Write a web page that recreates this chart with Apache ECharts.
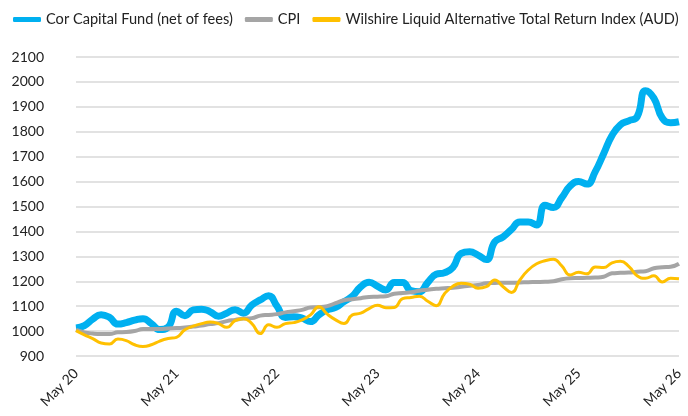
<!DOCTYPE html>
<html>
<head>
<meta charset="utf-8">
<script src="https://cdn.jsdelivr.net/npm/echarts@6/dist/echarts.min.js"></script>
<style>
html, body { margin: 0; padding: 0; background: #fff; }
#chart { width: 688px; height: 416px; }
</style>
</head>
<body>
<div id="chart"></div>
<script>
// month labels May 20 .. May 26
var monthNames = ['Jan', 'Feb', 'Mar', 'Apr', 'May', 'Jun', 'Jul', 'Aug', 'Sep', 'Oct', 'Nov', 'Dec'];
var startYear = 20, startMonth = 4, monthCount = 73;

var corFund = [
	1012, 1022, 1048, 1066, 1055, 1028, 1034, 1044, 1050, 1030, 1006, 1016,
	1080, 1062, 1085, 1088, 1078, 1060, 1072, 1086, 1072, 1105, 1125, 1142,
	1100, 1055, 1058, 1052, 1038, 1065, 1085, 1095, 1118, 1140, 1178, 1196,
	1180, 1165, 1195, 1195, 1162, 1158, 1195, 1228, 1234, 1255, 1312, 1318,
	1305, 1287, 1358, 1378, 1408, 1438, 1438, 1426, 1505, 1496, 1535, 1582,
	1600, 1590, 1640, 1712, 1785, 1828, 1844, 1860, 1965, 1935, 1855, 1836,
	1840
];
var cpi = [
	1005, 995, 990, 988, 988, 995, 996, 1000, 1008, 1008, 1008, 1010,
	1012, 1014, 1018, 1022, 1028, 1032, 1040, 1045, 1050, 1052, 1062, 1065,
	1068, 1075, 1080, 1085, 1095, 1096, 1100, 1112, 1124, 1128, 1132, 1137,
	1138, 1140, 1150, 1153, 1156, 1162, 1166, 1170, 1172, 1174, 1178, 1182,
	1185, 1192, 1193, 1194, 1194, 1195, 1196, 1197, 1198, 1200, 1208, 1212,
	1213, 1214, 1215, 1218, 1232, 1234, 1235, 1238, 1240, 1252, 1256, 1258,
	1270
];
var wilshire = [
	1002, 985, 970, 952, 948, 968, 962, 945, 938, 945, 960, 970,
	975, 1005, 1020, 1030, 1036, 1030, 1015, 1042, 1050, 1030, 990, 1025,
	1015, 1030, 1034, 1045, 1065, 1098, 1068, 1045, 1030, 1065, 1072, 1090,
	1104, 1094, 1095, 1130, 1135, 1140, 1120, 1102, 1150, 1180, 1192, 1188,
	1172, 1178, 1205, 1178, 1155, 1205, 1245, 1270, 1282, 1288, 1262, 1225,
	1236, 1230, 1257, 1255, 1274, 1280, 1260, 1222, 1212, 1222, 1197, 1212,
	1210
];

var categories = [];
for (var i = 0; i < monthCount; i++) {
	var m = startMonth + i;
	categories.push(monthNames[m % 12] + ' ' + (startYear + Math.floor(m / 12)));
}

var myChart = echarts.init(document.getElementById('chart'));
var option = {
	animation: false,
	textStyle: { fontFamily: 'Lato' },
	legend: {
		left: 13,
		top: 12,
		width: 675,
		padding: 0,
		icon: 'roundRect',
		itemWidth: 28,
		itemHeight: 5,
		itemGap: 12,
		textStyle: { fontSize: 14.6, color: '#222', fontFamily: 'Lato' },
		data: ['Cor Capital Fund (net of fees)', 'CPI', 'Wilshire Liquid Alternative Total Return Index (AUD)']
	},
	grid: { left: 76, right: 9, top: 57, bottom: 60 },
	xAxis: {
		type: 'category',
		boundaryGap: false,
		data: categories,
		axisLine: { show: false },
		axisTick: { show: false },
		axisLabel: {
			interval: 11,
			rotate: 45,
			margin: 15,
			fontSize: 14,
			color: '#222'
		}
	},
	yAxis: {
		type: 'value',
		min: 900,
		max: 2100,
		interval: 100,
		axisLabel: {
			fontSize: 14,
			color: '#222',
			margin: 32,
			formatter: function (v) { return String(v); }
		},
		splitLine: { lineStyle: { color: '#d9d9d9', width: 1.5 } }
	},
	series: [{
		name: 'Cor Capital Fund (net of fees)',
		type: 'line',
		smooth: true,
		showSymbol: false,
		data: corFund,
		itemStyle: { color: '#00b0f0' },
		lineStyle: { color: '#00b0f0', width: 7 }
	}, {
		name: 'CPI',
		type: 'line',
		smooth: true,
		showSymbol: false,
		data: cpi,
		itemStyle: { color: '#a5a5a5' },
		lineStyle: { color: '#a5a5a5', width: 4 }
	}, {
		name: 'Wilshire Liquid Alternative Total Return Index (AUD)',
		type: 'line',
		smooth: true,
		showSymbol: false,
		data: wilshire,
		itemStyle: { color: '#ffc000' },
		lineStyle: { color: '#ffc000', width: 3 }
	}]
};
myChart.setOption(option);
</script>
</body>
</html>
